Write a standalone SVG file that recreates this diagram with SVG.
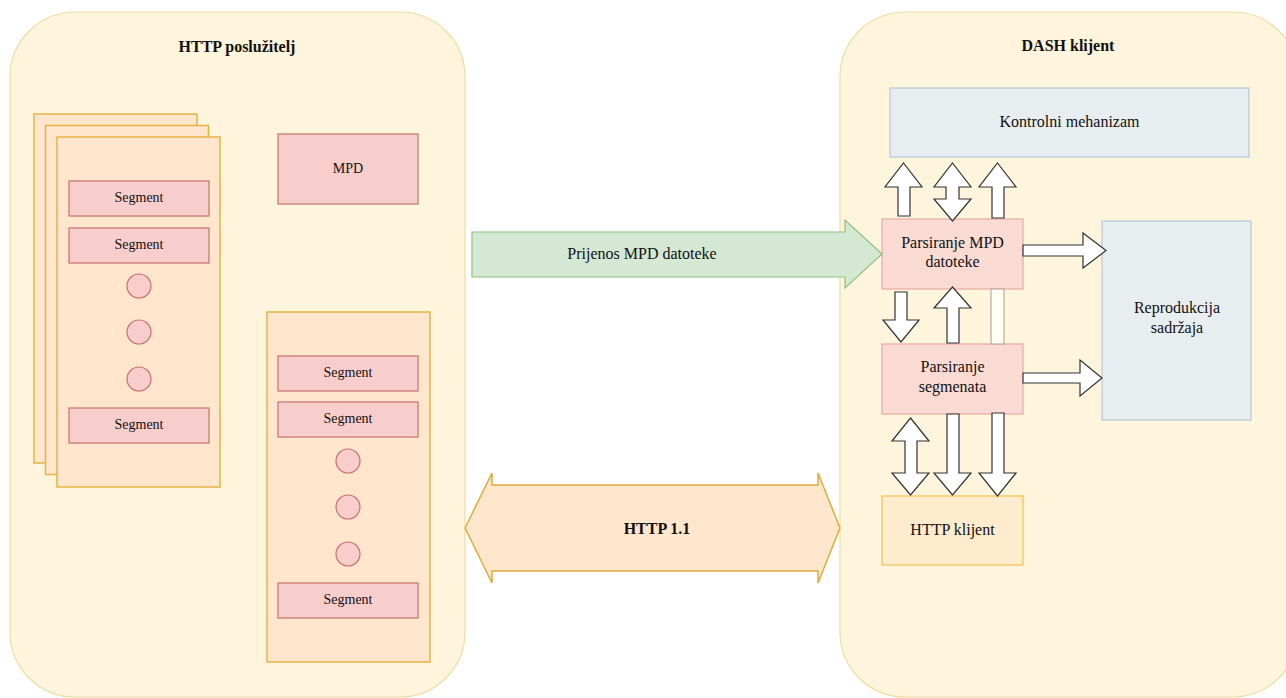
<svg xmlns="http://www.w3.org/2000/svg" width="1286" height="698" viewBox="0 0 1286 698">
<style>
text{font-family:"Liberation Serif","Times New Roman",serif;fill:#111;text-anchor:middle}
.t14{font-size:14px}
.t16{font-size:16px}
.b{font-weight:bold}
.cont{fill:#fff4dc;stroke:#f0dca0;stroke-width:1.2}
.page{fill:#ffe6cc;stroke:#e6b445;stroke-width:1.5}
.seg{fill:#f8cecc;stroke:#c9716d;stroke-width:1.2}
.dot{fill:#f8cecc;stroke:#c9716d;stroke-width:1.2}
.blue{fill:#e8edf0;stroke:#b5c8dd;stroke-width:1.2}
.pars{fill:#fadbd4;stroke:#e8a9a0;stroke-width:1.2}
.hc{fill:#ffebcd;stroke:#f2c14e;stroke-width:1.2}
.blk{fill:#ffffff;stroke:#333333;stroke-width:1.2;stroke-linejoin:miter}
</style>
<rect width="1286" height="698" fill="#ffffff"/>
<g id="http-server">
<rect class="cont" x="10" y="12" width="455" height="685" rx="65" ry="65"/>
<text class="t16 b" x="237" y="52">HTTP poslužitelj</text>
</g>
<g id="dash-client">
<rect class="cont" x="840" y="12" width="458" height="685" rx="65" ry="65"/>
<text class="t16 b" x="1068" y="51">DASH klijent</text>
</g>
<g id="representation-stack">
<rect class="page" x="34" y="114" width="163" height="349"/>
<rect class="page" x="45.5" y="125.5" width="163" height="349"/>
<rect class="page" x="57" y="137" width="163" height="350"/>
<rect class="seg" x="69" y="181" width="140" height="35"/>
<text class="t14" x="139" y="201.5">Segment</text>
<rect class="seg" x="69" y="228" width="140" height="35"/>
<text class="t14" x="139" y="248.5">Segment</text>
<circle class="dot" cx="139" cy="286" r="12"/>
<circle class="dot" cx="139" cy="332" r="12"/>
<circle class="dot" cx="139" cy="379" r="12"/>
<rect class="seg" x="69" y="408" width="140" height="35"/>
<text class="t14" x="139" y="428.5">Segment</text>
</g>
<g id="mpd">
<rect class="seg" x="278" y="134" width="140" height="70"/>
<text class="t14" x="348" y="173">MPD</text>
</g>
<g id="representation">
<rect class="page" x="267" y="312" width="163" height="350"/>
<rect class="seg" x="278" y="356" width="140" height="35"/>
<text class="t14" x="348" y="376.5">Segment</text>
<rect class="seg" x="278" y="402" width="140" height="35"/>
<text class="t14" x="348" y="422.5">Segment</text>
<circle class="dot" cx="348" cy="461" r="12"/>
<circle class="dot" cx="348" cy="507" r="12"/>
<circle class="dot" cx="348" cy="554" r="12"/>
<rect class="seg" x="278" y="583" width="140" height="35"/>
<text class="t14" x="348" y="603.5">Segment</text>
</g>
<g id="kontrolni">
<rect class="blue" x="890" y="88" width="359" height="69"/>
<text class="t16" x="1069.5" y="127">Kontrolni mehanizam</text>
</g>
<g id="reprodukcija">
<rect class="blue" x="1102" y="221" width="149" height="199"/>
<text class="t16" x="1177" y="313">Reprodukcija</text>
<text class="t16" x="1177" y="333">sadržaja</text>
</g>
<g id="parsiranje-mpd">
<rect class="pars" x="882" y="219" width="141" height="70"/>
<text class="t16" x="952.5" y="248">Parsiranje MPD</text>
<text class="t16" x="952.5" y="267">datoteke</text>
</g>
<g id="parsiranje-segmenata">
<rect class="pars" x="882" y="344" width="141" height="70"/>
<text class="t16" x="952.5" y="372">Parsiranje</text>
<text class="t16" x="952.5" y="392">segmenata</text>
</g>
<g id="http-klijent">
<rect class="hc" x="882" y="496" width="141" height="69"/>
<text class="t16" x="952.5" y="535">HTTP klijent</text>
</g>
<g id="connectors">
<path d="M472,232 L845,232 L845,220 L882,254 L845,288 L845,277 L472,277 Z" fill="#d5e8d4" stroke="#8fc17a" stroke-width="1.2"/>
<text class="t16" x="642" y="259">Prijenos MPD datoteke</text>
<path d="M465,528 L492,473 L492,485 L818,485 L818,473 L840,528 L818,583 L818,571 L492,571 L492,583 Z" fill="#ffe6cc" stroke="#e3aa3a" stroke-width="1.5"/>
<text class="t16 b" x="657" y="534">HTTP 1.1</text>
<path class="blk" d="M903.5,163 L922,187 L910,187 L910,216 L898,216 L898,187 L885,187 Z"/>
<path class="blk" d="M952.5,163 L971,187 L959,187 L959,199 L971,199 L952.5,221 L934,199 L946,199 L946,187 L934,187 Z"/>
<path class="blk" d="M997.5,163 L1016,187 L1004,187 L1004,218 L992,218 L992,187 L979,187 Z"/>
<path class="blk" d="M1023,245 L1083,245 L1083,233 L1106,250.5 L1083,268 L1083,256 L1023,256 Z"/>
<path class="blk" d="M895,292 L907,292 L907,320 L919,320 L901,342 L883,320 L895,320 Z"/>
<path class="blk" d="M952.5,287 L971,308 L959,308 L959,343 L947,343 L947,308 L934,308 Z"/>
<rect x="991" y="289" width="13" height="55" fill="#fffdf6" stroke="#b9af9a" stroke-width="1.2"/>
<path class="blk" d="M1023,373 L1080,373 L1080,360 L1102,378 L1080,396 L1080,383 L1023,383 Z"/>
<path class="blk" d="M910.5,418 L929,441 L917,441 L917,473 L929,473 L910.5,495 L892,473 L905,473 L905,441 L892,441 Z"/>
<path class="blk" d="M947,414 L959,414 L959,473 L971,473 L952.5,495 L934,473 L947,473 Z"/>
<path class="blk" d="M992,413 L1004,413 L1004,473 L1016,473 L997.5,496 L979,473 L992,473 Z"/>
</g>
</svg>
